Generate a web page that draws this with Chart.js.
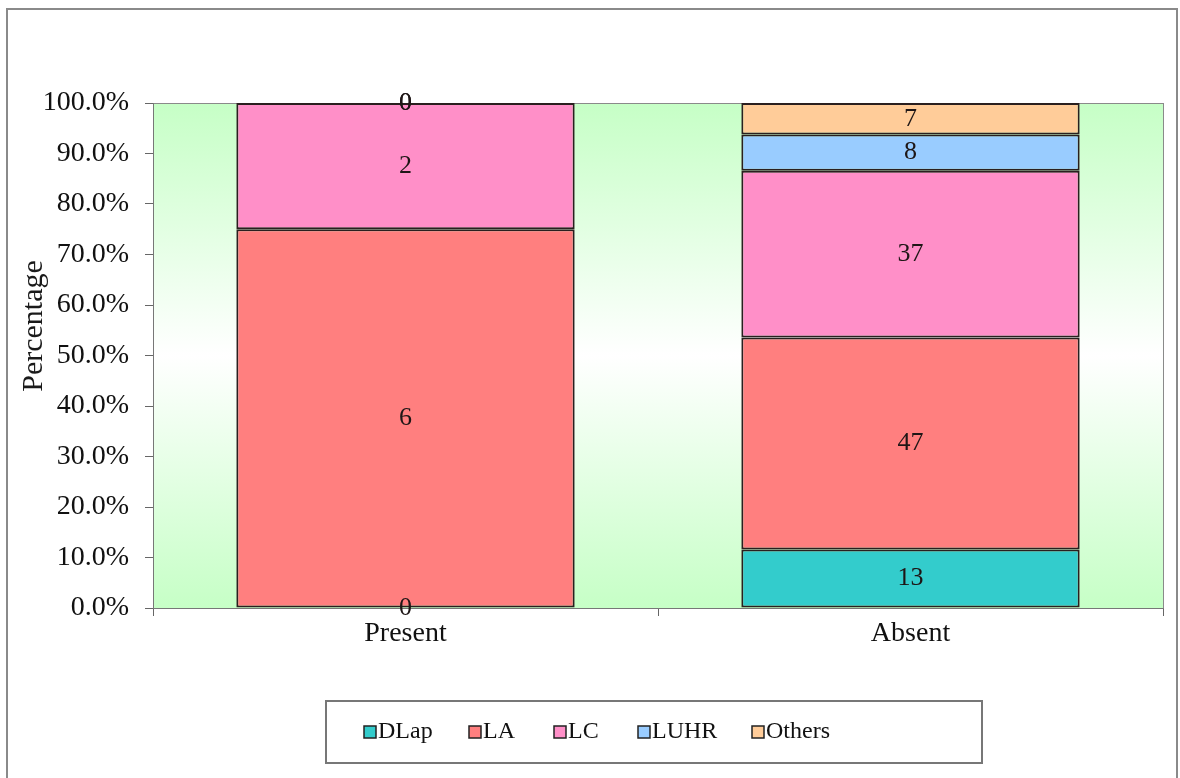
<!DOCTYPE html>
<html>
<head>
<meta charset="utf-8">
<script src="https://cdn.jsdelivr.net/npm/chart.js@4.4.1/dist/chart.umd.min.js"></script>
<style>
  html, body { margin: 0; padding: 0; background: #fff; }
  #wrap { width: 1180px; height: 778px; position: relative; }
</style>
</head>
<body>
<div id="wrap"><canvas id="chart" width="1180" height="778"></canvas></div>
<script>
// --- data (counts per group) ---
const groups = ['Present', 'Absent'];
const seriesNames = ['DLap', 'LA', 'LC', 'LUHR', 'Others'];
const dlapCounts = [0, 13];
const laCounts = [6, 47];
const lcCounts = [2, 37];
const luhrCounts = [0, 8];
const othersCounts = [0, 7];
const yTicks = [0, 10, 20, 30, 40, 50, 60, 70, 80, 90, 100];
const yTitle = 'Percentage';

const seriesColors = ['#33CCCC', '#FF7F7F', '#FF8FC8', '#99CCFF', '#FFCC99'];
const allCounts = [dlapCounts, laCounts, lcCounts, luhrCounts, othersCounts];

// totals per group, used to turn counts into 100% stacked shares
const totals = groups.map((g, i) => allCounts.reduce((s, arr) => s + arr[i], 0));

const datasets = seriesNames.map((name, k) => ({
  label: name,
  counts: allCounts[k],
  data: allCounts[k].map((c, i) => c / totals[i] * 100),
  backgroundColor: seriesColors[k],
  borderColor: '#2a1f1f',
  borderWidth: 2,
  borderSkipped: false,
  categoryPercentage: 1,
  barPercentage: 0.67
}));

const serif = '"Liberation Serif", "Times New Roman", serif';

// page frame, plot background gradient, plot border and y title
const backdrop = {
  id: 'backdrop',
  beforeDraw(chart) {
    const ctx = chart.ctx;
    ctx.save();
    ctx.fillStyle = '#fff';
    ctx.fillRect(0, 0, chart.width, chart.height);
    ctx.strokeStyle = '#8a8a8a';
    ctx.lineWidth = 2;
    ctx.strokeRect(7, 9, 1170, 800);
    const a = chart.chartArea;
    const g = ctx.createLinearGradient(0, a.top, 0, a.bottom);
    g.addColorStop(0, '#C6FFC6');
    g.addColorStop(0.5, '#FFFFFF');
    g.addColorStop(1, '#C6FFC6');
    ctx.fillStyle = g;
    ctx.fillRect(a.left, a.top, a.right - a.left, a.bottom - a.top);
    ctx.strokeStyle = '#8a8a8a';
    ctx.lineWidth = 1;
    ctx.strokeRect(a.left + 0.5, a.top + 0.5, a.right - a.left, a.bottom - a.top);

    // axis title, sits a little above the axis middle in the original
    ctx.translate(34, 326);
    ctx.rotate(-Math.PI / 2);
    ctx.font = '30px ' + serif;
    ctx.fillStyle = '#1a1a1a';
    ctx.textAlign = 'center';
    ctx.textBaseline = 'middle';
    ctx.fillText(yTitle, 0, 0);
    ctx.restore();
  }
};

// count labels in the middle of each segment
const countLabels = {
  id: 'countLabels',
  afterDatasetsDraw(chart) {
    const ctx = chart.ctx;
    ctx.save();
    ctx.font = '26px ' + serif;
    ctx.fillStyle = '#1e1616';
    ctx.textAlign = 'center';
    ctx.textBaseline = 'middle';
    chart.data.datasets.forEach((ds, k) => {
      chart.getDatasetMeta(k).data.forEach((bar, i) => {
        const y = (bar.y + bar.base) / 2;
        ctx.fillText(String(ds.counts[i]), bar.x, y);
      });
    });
    ctx.restore();
  }
};

// boxed legend under the chart
const boxLegend = {
  id: 'boxLegend',
  afterDraw(chart) {
    const ctx = chart.ctx;
    const itemX = [364, 469, 554, 638, 752];
    const cy = 732;
    ctx.save();
    ctx.strokeStyle = '#777';
    ctx.lineWidth = 2;
    ctx.strokeRect(326, 701, 656, 62);
    ctx.font = '24px ' + serif;
    ctx.textBaseline = 'middle';
    ctx.textAlign = 'left';
    chart.data.datasets.forEach((ds, k) => {
      const x = itemX[k];
      ctx.fillStyle = ds.backgroundColor;
      ctx.fillRect(x, cy - 6, 12, 12);
      ctx.strokeStyle = '#222';
      ctx.lineWidth = 1.5;
      ctx.strokeRect(x, cy - 6, 12, 12);
      ctx.fillStyle = '#111';
      ctx.fillText(ds.label, x + 14, cy);
    });
    ctx.restore();
  }
};

new Chart(document.getElementById('chart'), {
  type: 'bar',
  data: { labels: groups, datasets: datasets },
  options: {
    responsive: false,
    animation: false,
    layout: { padding: { top: 103, right: 17, bottom: 100, left: 0 } },
    plugins: {
      legend: { display: false },
      tooltip: { enabled: false }
    },
    scales: {
      x: {
        stacked: true,
        offset: true,
        grid: { offset: true, drawOnChartArea: false, drawTicks: true, tickLength: 8, color: '#666' },
        border: { display: true, color: '#777' },
        ticks: { color: '#111', font: { family: serif, size: 28 }, padding: 1 },
        afterFit(scale) { scale.height = 70; }
      },
      y: {
        stacked: true,
        min: 0,
        max: 100,
        afterBuildTicks(scale) { scale.ticks = yTicks.map(v => ({ value: v })); },
        grid: { drawOnChartArea: false, drawTicks: true, tickLength: 8, color: '#666' },
        border: { display: true, color: '#777' },
        ticks: {
          color: '#111',
          font: { family: serif, size: 28 },
          padding: 16,
          callback: v => v.toFixed(1) + '%'
        },
        afterFit(scale) { scale.width = 153; }
      }
    }
  },
  plugins: [backdrop, countLabels, boxLegend]
});
</script>
</body>
</html>
